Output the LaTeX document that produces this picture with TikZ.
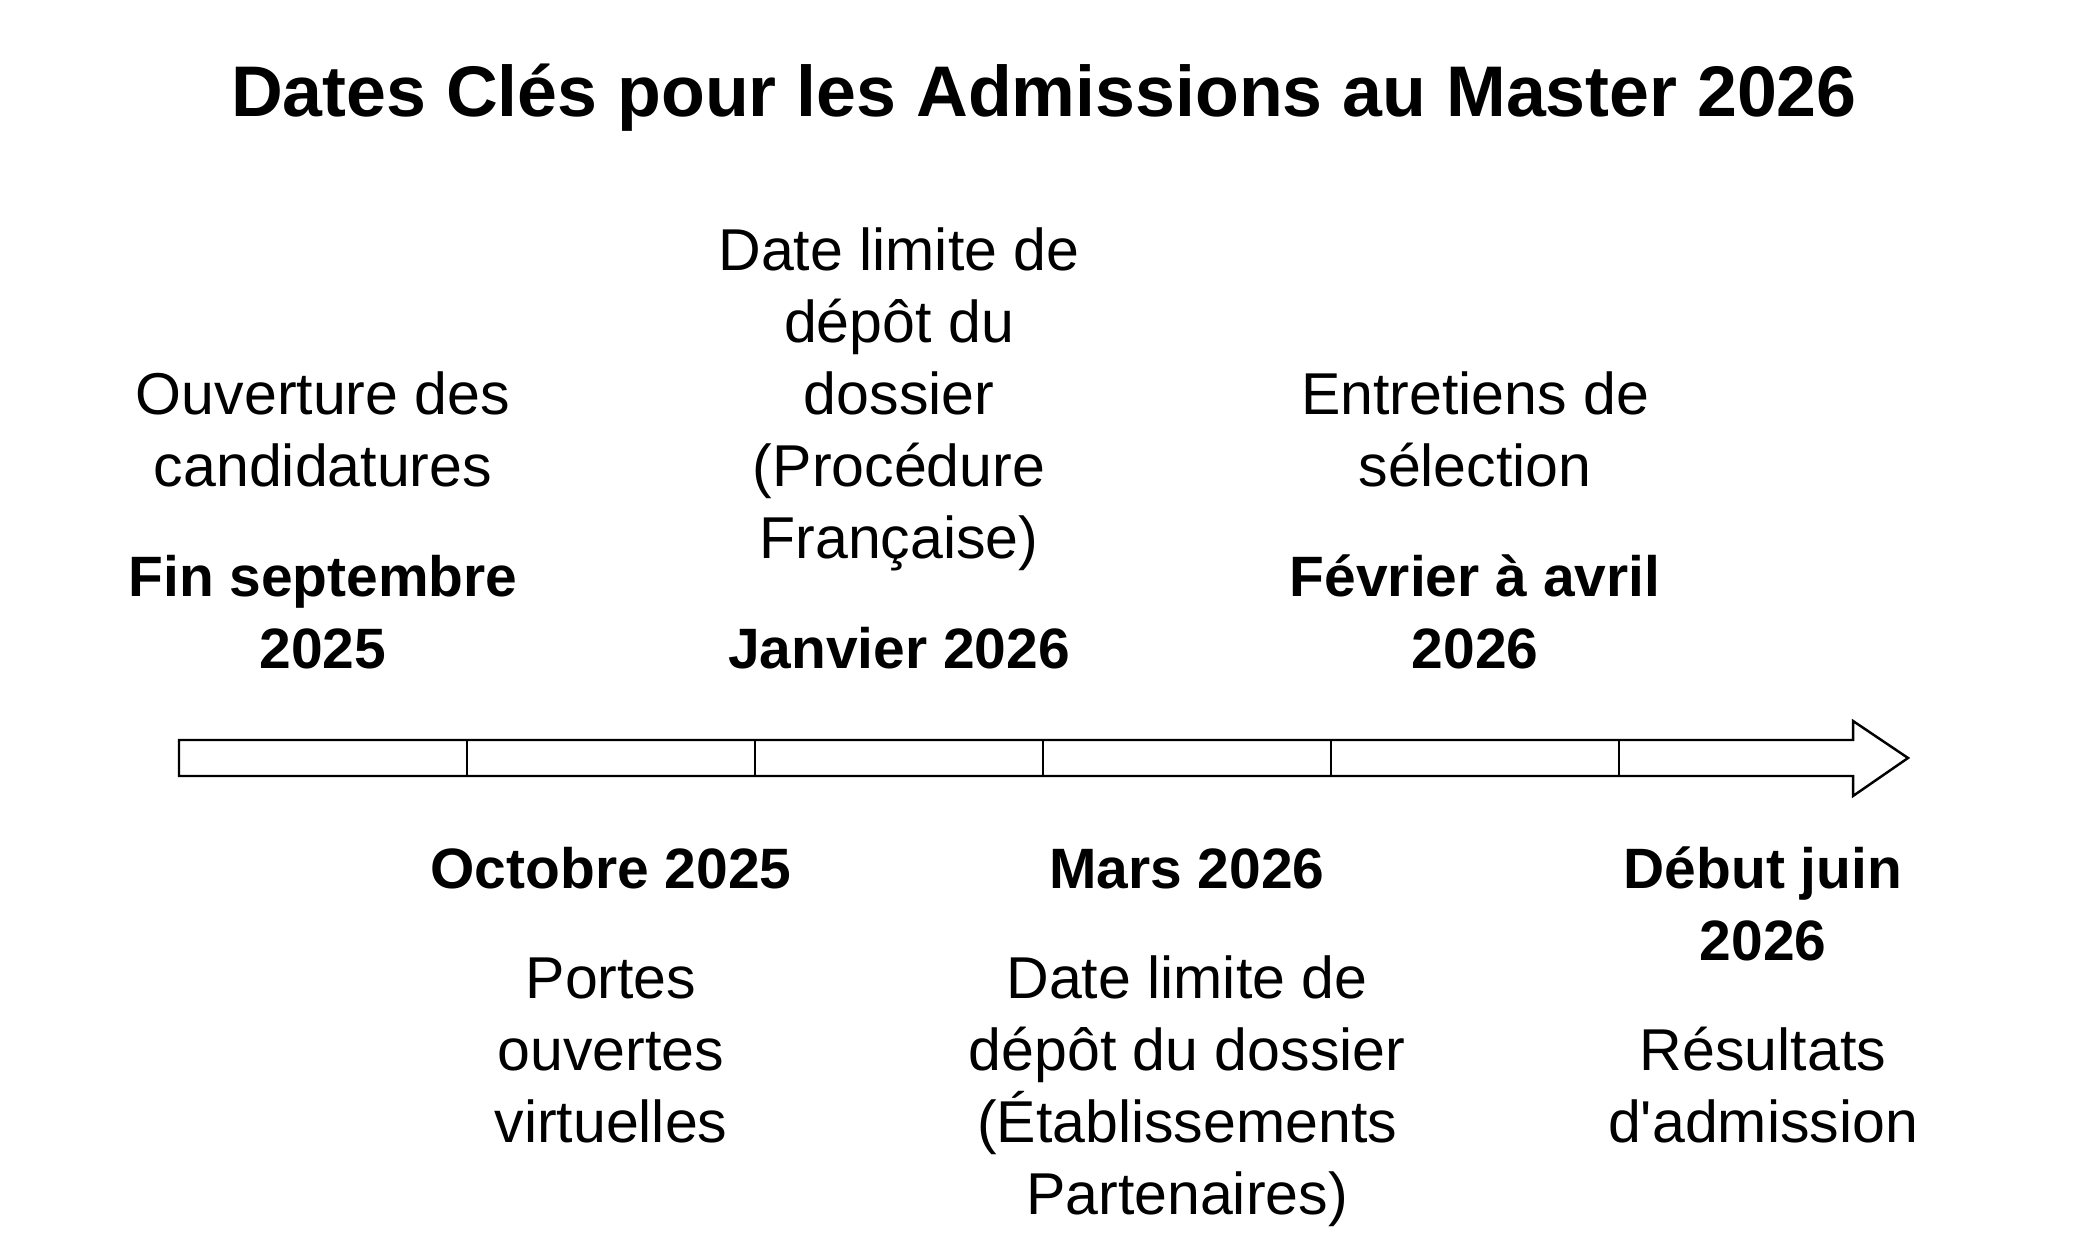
\documentclass[tikz,border=0pt]{standalone}
\usepackage{fontspec}
\setmainfont{Liberation Sans}
\usetikzlibrary{positioning}

\begin{document}
\begin{tikzpicture}[node distance=0.57cm, line width=0.7pt,
    what/.style={inner sep=0pt, align=center, text depth=0pt,
                 font=\fontsize{16.8}{20.5}\selectfont},
    when/.style={what, font=\fontsize{16.2}{20.5}\selectfont\bfseries}]

  \useasboundingbox (0,0) rectangle (20.88,12.59);

  \node[anchor=base, font=\fontsize{20.4}{25}\selectfont\bfseries]
    (title) at (10.44,11.42) {Dates Clés pour les Admissions au Master 2026};

  % timeline
  \draw (1.79,4.83) -- (18.53,4.83) -- (18.53,4.63) -- (19.08,5.01)
     -- (18.53,5.38) -- (18.53,5.19) -- (1.79,5.19) -- cycle;
  \foreach \i in {1,...,5}
    \draw (1.79+2.88*\i,4.83) -- (1.79+2.88*\i,5.19);
  \foreach \i in {1,...,6}
    \coordinate (s\i) at (0.35+2.88*\i,5.01);

  % above the line
  \node[when, anchor=south] (d1) at ([yshift=8.8mm]s1) {\strut Fin septembre\\2025};
  \node[what] (e1) [above=of d1] {\strut Ouverture des\\candidatures};

  \node[when, anchor=south] (d3) at ([yshift=8.8mm]s3) {\strut Janvier 2026};
  \node[what] (e3) [above=of d3] {\strut Date limite de\\dépôt du\\dossier\\(Procédure\\Française)};

  \node[when, anchor=south] (d5) at ([yshift=8.8mm]s5) {\strut Février à avril\\2026};
  \node[what] (e5) [above=of d5] {\strut Entretiens de\\sélection};

  % below the line
  \node[when, anchor=north] (d2) at ([yshift=-7.86mm]s2) {\strut Octobre 2025};
  \node[what] (e2) [below=of d2] {\strut Portes\\ouvertes\\virtuelles};

  \node[when, anchor=north] (d4) at ([yshift=-7.86mm]s4) {\strut Mars 2026};
  \node[what] (e4) [below=of d4] {\strut Date limite de\\dépôt du dossier\\(Établissements\\Partenaires)};

  \node[when, anchor=north] (d6) at ([yshift=-7.86mm]s6) {\strut Début juin\\2026};
  \node[what] (e6) [below=of d6] {\strut Résultats\\d\textquotesingle admission};

\end{tikzpicture}
\end{document}
